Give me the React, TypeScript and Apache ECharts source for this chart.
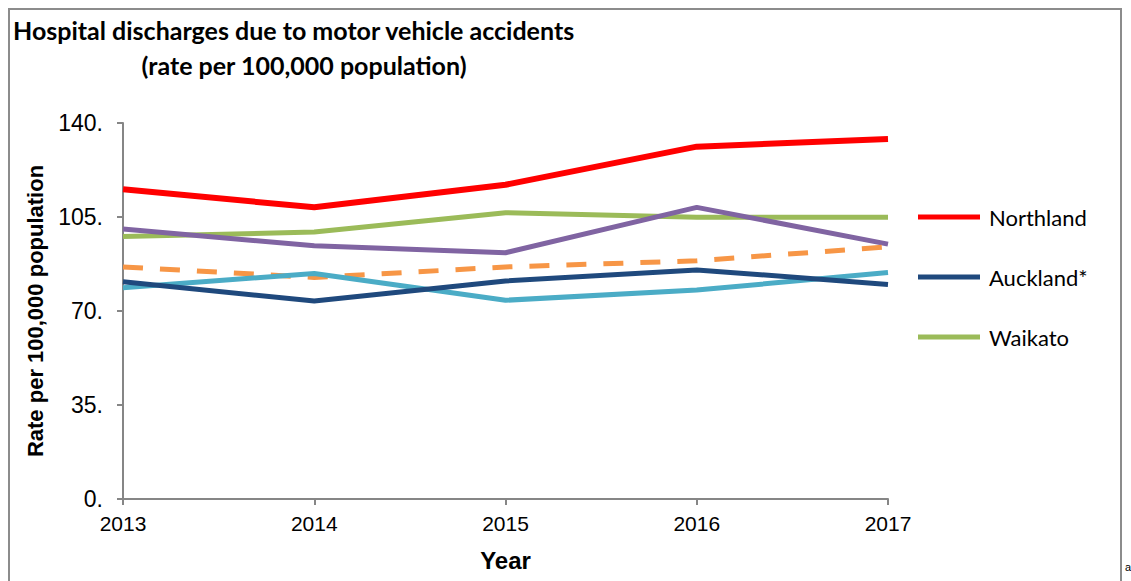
import React, { useEffect, useRef } from "react";
import * as echarts from "echarts";

const years = ["2013", "2014", "2015", "2016", "2017"];
const northland = [115.3, 108.6, 117.0, 131.2, 134.0];
const auckland = [80.9, 73.7, 81.2, 85.3, 79.9];
const waikato = [97.7, 99.4, 106.6, 104.9, 104.9];
const purpleSeries = [100.5, 94.3, 91.7, 108.6, 94.9];
const lightBlueSeries = [78.7, 84.0, 74.0, 77.8, 84.3];
const orangeDashed = [86.4, 82.5, 86.4, 88.7, 93.9];
const yTicks = [0, 35, 70, 105, 140];

export default function App() {
  const ref = useRef<HTMLDivElement>(null);
  useEffect(() => {
    const chart = echarts.init(ref.current!, null, { renderer: "svg" });
    const line = (name: string, data: number[], color: string, width: number, type: any = "solid") => ({
      name,
      type: "line",
      data,
      symbol: "none",
      lineStyle: { color, width, type, cap: "butt" },
      itemStyle: { color },
    });
    chart.setOption({
      animation: false,
      graphic: [
        { type: "rect", shape: { x: 9, y: 9, width: 1112, height: 600 }, style: { fill: "none", stroke: "#8c8c8c", lineWidth: 2 } },
        { type: "text", x: 13, y: 30, style: { text: "Hospital discharges due to motor vehicle accidents", font: "bold 25px Lato", fill: "#000", verticalAlign: "middle" } },
        { type: "text", x: 304, y: 65, style: { text: "(rate per 100,000 population)", font: "bold 25px Lato", fill: "#000", align: "center", verticalAlign: "middle" } },
        { type: "text", x: 1125, y: 561, style: { text: "a", font: "11px Arial", fill: "#000" } },
      ],
      grid: { left: 123, right: 1131 - 888, top: 123, bottom: 581 - 499, containLabel: false, outerBoundsMode: "none" },
      legend: {
        data: ["Northland", "Auckland*", "Waikato"],
        orient: "vertical",
        left: 918,
        top: 206,
        padding: 0,
        itemWidth: 62,
        itemHeight: 5,
        itemGap: 38,
        icon: "rect",
        textStyle: { fontFamily: "Lato", fontSize: 22, color: "#000", padding: [0, 0, 0, 4] },
      },
      xAxis: {
        type: "category",
        data: years,
        boundaryGap: false,
        axisLine: { lineStyle: { color: "#868686", width: 2 } },
        axisTick: { show: true, length: 6, lineStyle: { color: "#868686", width: 2 } },
        axisLabel: { color: "#000", fontFamily: "Arial", fontSize: 21, margin: 14 },
        name: "Year",
        nameLocation: "middle",
        nameGap: 49,
        nameTextStyle: { fontFamily: "Arial", fontWeight: "bold", fontSize: 24, color: "#000" },
      },
      yAxis: {
        type: "value",
        min: 0,
        max: 140,
        interval: 35,
        axisLine: { show: true, lineStyle: { color: "#868686", width: 2 } },
        axisTick: { show: true, length: 6, inside: false, lineStyle: { color: "#868686", width: 2 } },
        splitLine: { show: false },
        axisLabel: {
          color: "#000",
          fontFamily: "Arial",
          fontSize: 23,
          margin: 20,
          formatter: (v: number) => (yTicks.includes(v) ? v + "." : ""),
        },
        name: "Rate per 100,000 population",
        nameLocation: "middle",
        nameGap: 77,
        nameTextStyle: { fontFamily: "Arial", fontWeight: "bold", fontSize: 22, color: "#000" },
      },
      series: [
        line("Waikato", waikato, "#9BBB59", 5),
        line("Purple", purpleSeries, "#8064A2", 5),
        line("Orange", orangeDashed, "#F79646", 5, [20, 17]),
        line("Light blue", lightBlueSeries, "#4BACC6", 5),
        line("Auckland*", auckland, "#1F497D", 5),
        line("Northland", northland, "#FF0000", 6),
      ],
    });
    return () => chart.dispose();
  }, []);
  return <div ref={ref} style={{ position: "absolute", left: 0, top: 0, width: 1131, height: 581 }} />;
}
